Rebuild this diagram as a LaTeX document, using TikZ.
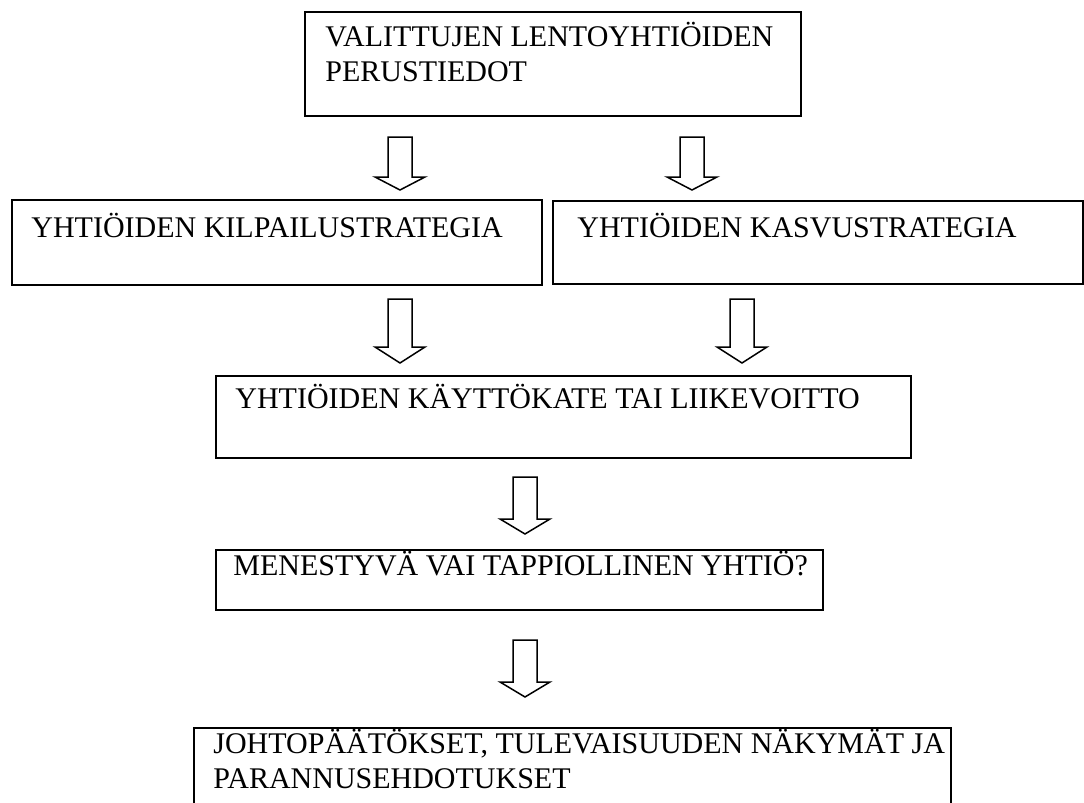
\documentclass[tikz,border=0pt]{standalone}
\usepackage{fontspec}
\setmainfont{Liberation Serif}
\begin{document}
\begin{tikzpicture}[x=0.5pt,y=-0.5pt,
  box/.style={draw, line width=1pt, inner sep=0pt, anchor=north west},
  label/.style={anchor=base west, inner sep=0pt, font=\fontsize{15}{17.5}\selectfont, align=left},
  hollow/.style={draw, line width=0.75pt, fill=white, line join=miter}]
\useasboundingbox (0,0) rectangle (1084,803);

% boxes: top-left corner, width and height in px (1px = 0.5pt)
\node[box, minimum width=496pt*0.5, minimum height=104pt*0.5] (b1) at (304,11) {};
\node[box, minimum width=530pt*0.5, minimum height=85pt*0.5]  (b2) at (11,199) {};
\node[box, minimum width=530pt*0.5, minimum height=83pt*0.5]  (b3) at (552,200) {};
\node[box, minimum width=695pt*0.5, minimum height=82pt*0.5]  (b4) at (215,375) {};
\node[box, minimum width=607pt*0.5, minimum height=60pt*0.5]  (b5) at (215,549) {};
\node[box, minimum width=757pt*0.5, minimum height=100pt*0.5] (b6) at (193,727) {};

% texts (multi-line ones are placed by the baseline of their last line)
\node[label] (t1) at (325,82) {VALITTUJEN LENTOYHTIÖIDEN\\PERUSTIEDOT};
\node[label] (t2) at (31,237) {YHTIÖIDEN KILPAILUSTRATEGIA};
\node[label] (t3) at (577,237) {YHTIÖIDEN KASVUSTRATEGIA};
\node[label] (t4) at (235,408) {YHTIÖIDEN KÄYTTÖKATE TAI LIIKEVOITTO};
\node[label] (t5) at (233,575) {MENESTYVÄ VAI TAPPIOLLINEN YHTIÖ?};
\node[label] (t6) at (213,788) {JOHTOPÄÄTÖKSET, TULEVAISUUDEN NÄKYMÄT JA\\PARANNUSEHDOTUKSET};

% hollow block arrows: #1 = centre x, #2 = top of shaft, #3 = start of head, #4 = tip
\newcommand{\blockarrow}[4]{%
  \draw[hollow] (#1-12,#2) -- (#1+12,#2) -- (#1+12,#3) -- (#1+25,#3)
    -- (#1,#4) -- (#1-25,#3) -- (#1-12,#3) -- cycle;}
\blockarrow{400}{137}{177}{190}
\blockarrow{692}{137}{177}{190}
\blockarrow{400}{299}{347}{363}
\blockarrow{742}{299}{347}{363}
\blockarrow{525}{477}{519}{534}
\blockarrow{525}{640}{682}{697}
\end{tikzpicture}
\end{document}
